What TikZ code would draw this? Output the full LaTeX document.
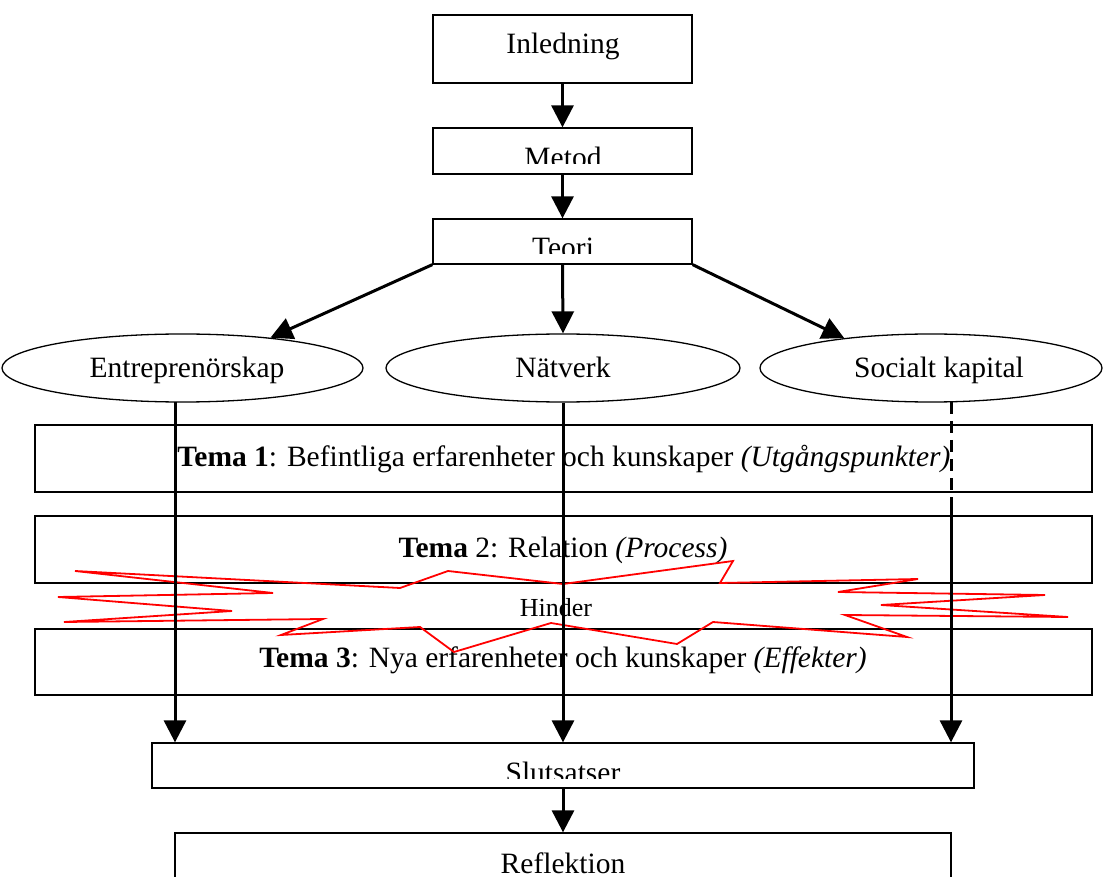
\documentclass[tikz,border=0pt]{standalone}
\usepackage{fontspec}
\setmainfont{Liberation Serif}
\usetikzlibrary{arrows.meta,shapes.geometric}
\begin{document}
\begin{tikzpicture}[x=1pt,y=-1pt,
  box/.style={draw, rectangle, line width=1.3pt, inner sep=0pt},
  oval/.style={draw, ellipse, line width=1.3pt, inner sep=0pt},
  lbl/.style={font=\fontsize{29.5}{34}\selectfont, inner sep=0pt, anchor=base},
  small/.style={font=\fontsize{26}{30}\selectfont, inner sep=0pt, anchor=base},
  arr/.style={line width=3pt, -{Triangle[length=22pt,width=22pt]}},
  vline/.style={line width=3pt},
  star/.style={draw=red, line width=1.8pt, line join=miter}]
\clip (0,0) rectangle (1104,877);
\fill[white] (0,0) rectangle (1104,877);

% boxes
\node[box, minimum width=259pt, minimum height=68pt] (inl) at (562.5,49) {};
\node[box, minimum width=259pt, minimum height=46pt] (met) at (562.5,151) {};
\node[box, minimum width=259pt, minimum height=45pt] (teo) at (562.5,241.5) {};
\node[oval, minimum width=361pt, minimum height=68pt] (ent) at (182.5,368) {};
\node[oval, minimum width=354pt, minimum height=68pt] (net) at (563,368) {};
\node[oval, minimum width=342pt, minimum height=68pt] (soc) at (931,368) {};
\node[box, minimum width=1057pt, minimum height=67pt] (t1) at (563.5,458.5) {};
\node[box, minimum width=1057pt, minimum height=67pt] (t2) at (563.5,549.5) {};
\node[box, minimum width=1057pt, minimum height=66pt] (t3) at (563.5,662) {};
\node[box, minimum width=822pt, minimum height=45pt] (slu) at (563,765.5) {};
\node[box, minimum width=776pt, minimum height=67pt] (ref) at (563,866.5) {};

% texts
\node[lbl] (inlT) at (563,53.5) {Inledning};
\begin{scope}
  \clip (433,128) rectangle (692,164);
  \node[lbl] (metT) at (563,168) {Metod};
\end{scope}
\begin{scope}
  \clip (433,219) rectangle (692,254);
  \node[lbl] (teoT) at (563,258) {Teori};
\end{scope}
\node[lbl] (entT) at (187,378) {Entreprenörskap};
\node[lbl] (netT) at (563,378) {Nätverk};
\node[lbl] (socT) at (939,378) {Socialt kapital};
\node[lbl] (t1T) at (564,467) {\textbf{Tema 1}: Befintliga erfarenheter och kunskaper \textit{(Utgångspunkter)}};
\node[lbl] (t2T) at (563,557) {\textbf{Tema} 2: Relation \textit{(Process)}};
\node[lbl] (t3T) at (563,667) {\textbf{Tema 3}: Nya erfarenheter och kunskaper \textit{(Effekter)}};
\begin{scope}
  \clip (152,743) rectangle (974,778);
  \node[lbl] (sluT) at (563,782) {Slutsatser};
\end{scope}
\node[lbl] (refT) at (563,873) {Reflektion};

% star (Hinder)
\draw[star] (75,571) -- (400,588) -- (448,571) -- (563,584) -- (733,561) -- (720,583)
  -- (918,579) -- (838,592) -- (1045,595) -- (881,605) -- (1068,617) -- (845,615)
  -- (907,637) -- (713,622) -- (677,644) -- (551,623) -- (454,652) -- (420,627)
  -- (281,635) -- (323,619) -- (64,622) -- (232,611) -- (58,597) -- (273,593) -- cycle;
\node[small] (hinT) at (556,616.5) {Hinder};

% connectors
\draw[arr] (inl.south) -- (met.north);
\draw[arr] (met.south) -- (teo.north);
\draw[arr] (teo.south west) -- (ent.19);
\draw[arr] (teo.south) -- (net.north);
\draw[arr] (teo.south east) -- (soc.161);

\coordinate (c1) at (175,402);
\coordinate (c3) at (951,402);
\coordinate (c3b) at (951,505);
\draw[arr] (c1) -- (c1 |- slu.north);
\draw[arr] (net.south) -- (slu.north);
\draw[vline, dash pattern=on 12pt off 7pt] (c3) -- (c3b);
\draw[arr] (c3b) -- (c3b |- slu.north);
\draw[arr] (slu.south) -- (ref.north);
\end{tikzpicture}
\end{document}
